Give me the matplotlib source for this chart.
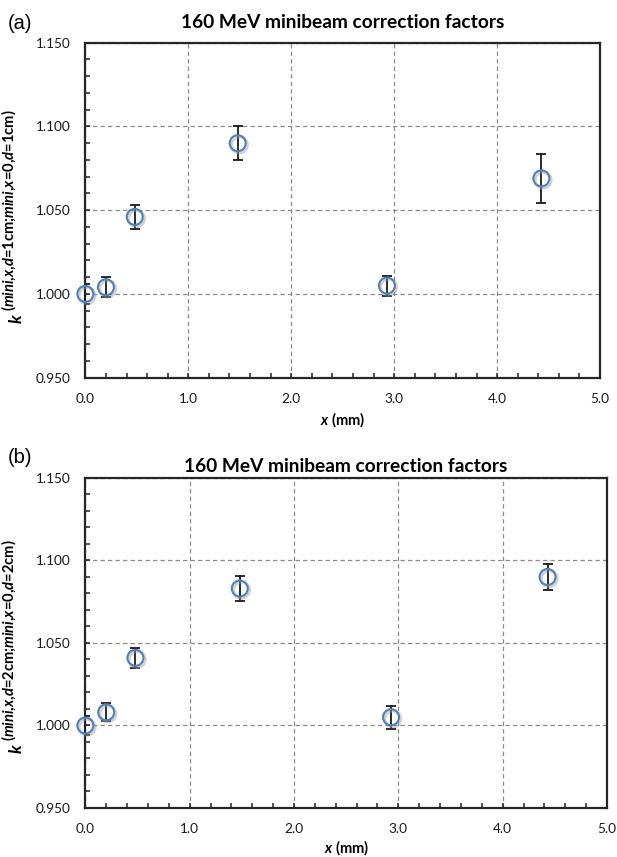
import matplotlib
matplotlib.use("Agg")
import matplotlib.pyplot as plt
import matplotlib.patheffects as pe
from matplotlib.ticker import MultipleLocator, FormatStrFormatter

plt.rcParams["font.family"] = ["Lato", "DejaVu Sans"]
plt.rcParams["mathtext.fontset"] = "custom"
plt.rcParams["mathtext.it"] = "Lato:italic:bold"
plt.rcParams["mathtext.rm"] = "Lato:bold"
plt.rcParams["mathtext.bf"] = "Lato:bold"

# Correction factors vs lateral offset, depth 1 cm
x_a = [0.0, 0.20, 0.48, 1.48, 2.93, 4.43]
k_a = [1.000, 1.004, 1.046, 1.090, 1.005, 1.069]
err_a = [0.006, 0.006, 0.007, 0.010, 0.006, 0.0145]

# Correction factors vs lateral offset, depth 2 cm
x_b = [0.0, 0.20, 0.48, 1.48, 2.93, 4.43]
k_b = [1.000, 1.008, 1.041, 1.083, 1.005, 1.090]
err_b = [0.006, 0.0055, 0.006, 0.0075, 0.007, 0.008]

title = "160 MeV minibeam correction factors"
sup_a = r"$\text{(}mini\text{,}x\text{,}d\text{=1cm;}mini\text{,}x\text{=0,}d\text{=1cm)}$"
sup_b = r"$\text{(}mini\text{,}x\text{,}d\text{=2cm;}mini\text{,}x\text{=0,}d\text{=2cm)}$"
xlabel = r"$x$ (mm)"

W, H = 617, 857
fig = plt.figure(figsize=(W / 100, H / 100), dpi=100)
ax_a = fig.add_axes([0.1383, 0.5593, 0.8342, 0.3909])
ax_b = fig.add_axes([0.1383, 0.0572, 0.8455, 0.3851])

blue = "#4F81BD"
shadow = [pe.SimpleLineShadow(offset=(1.2, -1.2), shadow_color="#9a9a9a",
                              alpha=0.45, linewidth=2.2),
          pe.Normal()]

panels = [
    (ax_a, x_a, k_a, err_a, sup_a, 10.5, 3.5),
    (ax_b, x_b, k_b, err_b, sup_b, 4.5, 2.0),
]

for ax, xs, ks, es, sup, tpad, lpad in panels:
    ax.errorbar(xs, ks, yerr=es, fmt="none", ecolor="#1a1a1a",
                elinewidth=1.3, capsize=3.5, capthick=1.3, zorder=3)
    ax.plot(xs, ks, linestyle="none", marker="o", markersize=11.5,
            markerfacecolor="none", markeredgecolor=blue,
            markeredgewidth=1.5, zorder=4, clip_on=False,
            path_effects=shadow)
    ax.set_xlim(0, 5)
    ax.set_ylim(0.95, 1.15)
    ax.xaxis.set_major_locator(MultipleLocator(1.0))
    ax.xaxis.set_minor_locator(MultipleLocator(0.2))
    ax.yaxis.set_major_locator(MultipleLocator(0.05))
    ax.yaxis.set_minor_locator(MultipleLocator(0.01))
    ax.xaxis.set_major_formatter(FormatStrFormatter("%.1f"))
    ax.yaxis.set_major_formatter(FormatStrFormatter("%.3f"))
    ax.tick_params(which="both", direction="in", length=3.5, width=1.1,
                   color="#222222", labelsize=9.8, top=False, right=False,
                   labelcolor="#1a1a1a")
    ax.tick_params(axis="x", which="major", pad=11)
    ax.tick_params(axis="y", which="major", pad=10.5)
    ax.grid(True, which="major", linestyle=(0, (3.5, 2.5)), color="#8c8c8c",
            linewidth=0.9)
    ax.set_axisbelow(True)
    for s in ax.spines.values():
        s.set_linewidth(1.6)
        s.set_color("#262626")
    ax.set_title(title, fontsize=13.8, fontweight="bold", pad=tpad)
    ax.set_xlabel(xlabel, fontsize=10.5, fontweight="bold", labelpad=lpad)

    # vertical axis label: italic k followed by its raised qualifier
    pos = ax.get_position()
    bottom_px = (1 - pos.y0) * H
    k_start = bottom_px - 54.5
    fig.text(21.5 / W, 1 - k_start / H, "k", rotation=90,
             rotation_mode="anchor", ha="left", va="baseline",
             fontsize=12.5, fontweight="bold", style="italic")
    fig.text(14.0 / W, 1 - (k_start - 12.5) / H, sup, rotation=90,
             rotation_mode="anchor", ha="left", va="baseline",
             fontsize=10.6)

fig.text(0.013, 0.972, "(a)", fontsize=14.5, family="Liberation Sans",
         va="center")
fig.text(0.013, 0.466, "(b)", fontsize=14.5, family="Liberation Sans",
         va="center")

fig.savefig("out.png", dpi=100)
